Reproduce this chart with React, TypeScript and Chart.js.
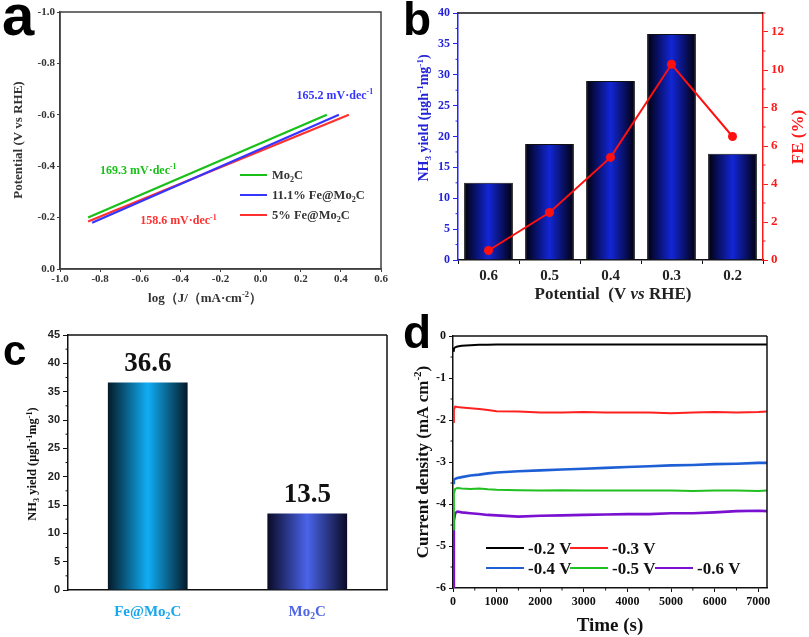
import React, { useEffect, useRef } from "react";
import { Chart, registerables } from "chart.js";

Chart.register(...registerables);

const SERIF = "'Liberation Serif', 'Times New Roman', serif";
const SANS = "'Liberation Sans', Arial, sans-serif";

// panel a: Tafel lines (two end points each)
const aNames = ["Mo_{2}C", "11.1% Fe@Mo_{2}C", "5% Fe@Mo_{2}C"];
const aColors = ["#18c018", "#3535ff", "#ff3030"];
const aLogJ = [
  [-0.86, 0.33],
  [-0.84, 0.39],
  [-0.86, 0.44],
];
const aPotential = [
  [-0.2, -0.6],
  [-0.18, -0.6],
  [-0.185, -0.6],
];
const aSlopes = ["169.3 mV·dec^{-1}", "165.2 mV·dec^{-1}", "158.6 mV·dec^{-1}"];
const aSlopeAnchor = [
  [-0.61, -0.385],
  [0.37, -0.677],
  [-0.41, -0.19],
];

// panel b: yield bars + FE line
const bPotentials = ["0.6", "0.5", "0.4", "0.3", "0.2"];
const bYield = [12.5, 18.8, 29.0, 36.6, 17.2];
const bFE = [0.5, 2.5, 5.4, 10.3, 6.5];
const bFETicks = [0, 2, 4, 6, 8, 10, 12];

// panel c: yield comparison
const cSamples = ["Fe@Mo_{2}C", "Mo_{2}C"];
const cYield = [36.6, 13.5];
const cBarColors = [
  ["#041a28", "#10aef6"],
  ["#0a0a26", "#4a64ea"],
];
const cLabelColors = ["#1aa6ee", "#5066e4"];

// panel d: chronoamperometry
const dTime = [
  0, 20, 50, 100, 200, 400, 600, 800, 1000, 1500, 2000, 2500, 3000, 3500, 4000,
  4500, 5000, 5500, 6000, 6500, 7000, 7200,
];
const dTimeTicks = [0, 1000, 2000, 3000, 4000, 5000, 6000, 7000];
const dLabels = ["-0.2 V", "-0.3 V", "-0.4 V", "-0.5 V", "-0.6 V"];
const dColors = ["#000000", "#ff2020", "#1f5fd6", "#20c020", "#7a10d0"];
const dCurrent = [
  [-0.35, -0.3, -0.27, -0.25, -0.23, -0.22, -0.21, -0.21, -0.2, -0.2, -0.2, -0.2, -0.2, -0.2, -0.2, -0.2, -0.2, -0.2, -0.2, -0.2, -0.2, -0.2],
  [-2.05, -1.75, -1.68, -1.69, -1.7, -1.72, -1.74, -1.76, -1.79, -1.8, -1.82, -1.82, -1.81, -1.82, -1.82, -1.82, -1.84, -1.82, -1.81, -1.82, -1.81, -1.8],
  [-3.5, -3.42, -3.4, -3.38, -3.36, -3.32, -3.3, -3.27, -3.25, -3.22, -3.2, -3.18, -3.16, -3.14, -3.12, -3.1, -3.08, -3.07, -3.05, -3.04, -3.02, -3.02],
  [-4.6, -3.75, -3.64, -3.62, -3.63, -3.64, -3.63, -3.65, -3.66, -3.67, -3.68, -3.67, -3.68, -3.68, -3.68, -3.68, -3.68, -3.69, -3.68, -3.68, -3.69, -3.68],
  [-6.0, -4.4, -4.22, -4.18, -4.2, -4.22, -4.24, -4.26, -4.27, -4.3, -4.28, -4.27, -4.26, -4.25, -4.24, -4.24, -4.22, -4.22, -4.2, -4.17, -4.16, -4.17],
];

// ---- helpers ----
type Part = { t: string; m: "n" | "sub" | "sup" | "i" };

// "_{x}" subscript, "^{x}" superscript, "*{x}" italic
function parseRich(s: string): Part[] {
  const out: Part[] = [];
  let buf = "";
  let i = 0;
  while (i < s.length) {
    const c = s[i];
    if ((c === "_" || c === "^" || c === "*") && s[i + 1] === "{") {
      if (buf) out.push({ t: buf, m: "n" });
      buf = "";
      const end = s.indexOf("}", i);
      out.push({ t: s.slice(i + 2, end), m: c === "_" ? "sub" : c === "^" ? "sup" : "i" });
      i = end + 1;
    } else {
      buf += c;
      i++;
    }
  }
  if (buf) out.push({ t: buf, m: "n" });
  return out;
}

function drawRich(
  ctx: CanvasRenderingContext2D,
  s: string,
  x: number,
  y: number,
  size: number,
  color: string,
  align: "left" | "center" | "right" = "left"
) {
  const parts = parseRich(s);
  const fontFor = (p: Part) => {
    const sz = p.m === "sub" || p.m === "sup" ? size * 0.65 : size;
    return `${p.m === "i" ? "italic " : ""}bold ${sz}px ${SERIF}`;
  };
  let w = 0;
  for (const p of parts) {
    ctx.font = fontFor(p);
    w += ctx.measureText(p.t).width;
  }
  let cx = align === "left" ? x : align === "center" ? x - w / 2 : x - w;
  ctx.save();
  ctx.fillStyle = color;
  ctx.textAlign = "left";
  ctx.textBaseline = "alphabetic";
  for (const p of parts) {
    ctx.font = fontFor(p);
    const dy = p.m === "sub" ? size * 0.22 : p.m === "sup" ? -size * 0.38 : 0;
    ctx.fillText(p.t, cx, y + dy);
    cx += ctx.measureText(p.t).width;
  }
  ctx.restore();
}

function drawRichUp(ctx: CanvasRenderingContext2D, s: string, x: number, y: number, size: number, color: string) {
  ctx.save();
  ctx.translate(x, y);
  ctx.rotate(-Math.PI / 2);
  drawRich(ctx, s, 0, size * 0.35, size, color, "center");
  ctx.restore();
}

function panelLetter(ctx: CanvasRenderingContext2D, letter: string, x: number, y: number, size: number) {
  ctx.save();
  ctx.font = `bold ${size}px ${SANS}`;
  ctx.fillStyle = "#000";
  ctx.textBaseline = "alphabetic";
  ctx.textAlign = "left";
  ctx.fillText(letter, x, y);
  ctx.restore();
}

function line(ctx: CanvasRenderingContext2D, x1: number, y1: number, x2: number, y2: number, color: string, w: number) {
  ctx.save();
  ctx.strokeStyle = color;
  ctx.lineWidth = w;
  ctx.beginPath();
  ctx.moveTo(x1, y1);
  ctx.lineTo(x2, y2);
  ctx.stroke();
  ctx.restore();
}

function minorY(chart: any, id: string, from: number, to: number, step: number, color: string, side: "left" | "right") {
  const s = chart.scales[id];
  const x = side === "left" ? chart.chartArea.left : chart.chartArea.right;
  for (let v = from; v <= to + 1e-9; v += step) {
    const y = s.getPixelForValue(v);
    line(chart.ctx, side === "left" ? x - 2.5 : x, y, side === "left" ? x : x + 2.5, y, color, 1);
  }
}

function minorX(chart: any, from: number, to: number, step: number, color: string) {
  const s = chart.scales.x;
  const y = chart.chartArea.bottom;
  for (let v = from; v <= to + 1e-9; v += step) {
    const x = s.getPixelForValue(v);
    line(chart.ctx, x, y, x, y + 2.5, color, 1);
  }
}

function barGradient(c: any, stops: string[], pct: number) {
  const chart = c.chart;
  const xs = chart.scales.x;
  if (!chart.chartArea || !xs || c.type !== "data") return stops[1];
  const n = chart.data.labels.length;
  const cx = xs.getPixelForValue(c.dataIndex);
  const half = ((xs.width / n) * pct) / 2;
  const g = chart.ctx.createLinearGradient(cx - half, 0, cx + half, 0);
  g.addColorStop(0, stops[0]);
  g.addColorStop(0.5, stops[1]);
  g.addColorStop(1, stops[0]);
  return g;
}

const tickFont = (size: number, family = SERIF) => ({ family, weight: "bold" as const, size });

const App: React.FC = () => {
  const refA = useRef<HTMLCanvasElement>(null);
  const refB = useRef<HTMLCanvasElement>(null);
  const refC = useRef<HTMLCanvasElement>(null);
  const refD = useRef<HTMLCanvasElement>(null);

  useEffect(() => {
    const charts: Chart[] = [];

    // ---------- a ----------
    if (refA.current) {
      charts.push(
        new Chart(refA.current, {
          type: "line",
          data: {
            datasets: aNames.map((n, i) => ({
              label: n,
              data: aLogJ[i].map((x, k) => ({ x, y: aPotential[i][k] })),
              borderColor: aColors[i],
              borderWidth: 2.2,
              pointRadius: 0,
              fill: false,
              tension: 0,
            })),
          },
          options: {
            responsive: false,
            animation: false,
            layout: { padding: { top: 12, right: 19, left: 0, bottom: 0 } },
            plugins: { legend: { display: false }, tooltip: { enabled: false } },
            scales: {
              x: {
                type: "linear",
                min: -1,
                max: 0.6,
                ticks: { stepSize: 0.2, callback: (v: any) => Number(v).toFixed(1), font: tickFont(11), color: "#333", padding: 1 },
                grid: { drawOnChartArea: false, tickLength: 3, color: "#404040" },
                border: { color: "#404040", width: 1.5 },
                afterFit: (s: any) => {
                  s.height = 41;
                },
              },
              y: {
                min: -1,
                max: 0,
                reverse: true,
                ticks: { stepSize: 0.2, callback: (v: any) => Number(v).toFixed(1), font: tickFont(11), color: "#333", padding: 2 },
                grid: { drawOnChartArea: false, tickLength: 3, color: "#404040" },
                border: { color: "#404040", width: 1.5 },
                afterFit: (s: any) => {
                  s.width = 60;
                },
              },
            },
          },
          plugins: [
            {
              id: "extrasA",
              afterDraw(chart: any) {
                const { ctx, chartArea: a, scales } = chart;
                ctx.save();
                ctx.strokeStyle = "#404040";
                ctx.lineWidth = 1.5;
                ctx.strokeRect(a.left, a.top, a.right - a.left, a.bottom - a.top);
                ctx.restore();
                aSlopes.forEach((t, i) => {
                  const px = scales.x.getPixelForValue(aSlopeAnchor[i][0]);
                  const py = scales.y.getPixelForValue(aSlopeAnchor[i][1]);
                  drawRich(ctx, t, px, py + 4, 12, aColors[i], "center");
                });
                aNames.forEach((n, i) => {
                  const y = 175 + i * 20;
                  line(ctx, 240, y, 267, y, aColors[i], 2);
                  drawRich(ctx, n, 272, y + 4, 12.5, "#333");
                });
                drawRich(ctx, "log（J/（mA·cm^{-2}）", 205, 302, 13, "#333", "center");
                drawRichUp(ctx, "Potential (V vs RHE)", 17, 140, 13, "#333");
                panelLetter(ctx, "a", 2, 35, 58);
              },
            },
          ],
        } as any)
      );
    }

    // ---------- b ----------
    if (refB.current) {
      charts.push(
        new Chart(refB.current, {
          type: "bar",
          data: {
            labels: bPotentials,
            datasets: [
              {
                type: "line",
                label: "FE",
                data: bFE,
                yAxisID: "y1",
                borderColor: "#ff1010",
                borderWidth: 2,
                pointRadius: 4.5,
                pointBackgroundColor: "#ff1010",
                pointBorderWidth: 0,
                tension: 0,
                order: 0,
              },
              {
                type: "bar",
                label: "NH3 yield",
                data: bYield,
                yAxisID: "y",
                backgroundColor: (c: any) => barGradient(c, ["#00000c", "#1226d6"], 0.8),
                borderColor: "#111",
                borderWidth: 1,
                barPercentage: 0.8,
                categoryPercentage: 1,
                order: 1,
              },
            ],
          },
          options: {
            responsive: false,
            animation: false,
            layout: { padding: { top: 13, right: 0, left: 0, bottom: 0 } },
            plugins: { legend: { display: false }, tooltip: { enabled: false } },
            scales: {
              x: {
                ticks: { font: tickFont(15), color: "#222", padding: 3 },
                grid: { drawOnChartArea: false, tickLength: 4, color: "#111" },
                border: { color: "#111", width: 1.5 },
                afterFit: (s: any) => {
                  s.height = 50;
                },
              },
              y: {
                position: "left",
                min: 0,
                max: 40,
                ticks: { stepSize: 5, font: tickFont(12), color: "#2323d8", padding: 3 },
                grid: { drawOnChartArea: false, tickLength: 5, color: "#2323ff" },
                border: { color: "#2323ff", width: 1.5 },
                afterFit: (s: any) => {
                  s.width = 58;
                },
              },
              y1: {
                position: "right",
                min: 0,
                max: 13,
                afterBuildTicks: (axis: any) => {
                  axis.ticks = bFETicks.map((value) => ({ value }));
                },
                ticks: { font: tickFont(13), color: "#ff1a1a", padding: 3 },
                grid: { drawOnChartArea: false, tickLength: 5, color: "#ff1a1a" },
                border: { color: "#ff1a1a", width: 1.5 },
                afterFit: (s: any) => {
                  s.width = 46;
                },
              },
            },
          },
          plugins: [
            {
              id: "extrasB",
              afterDraw(chart: any) {
                const { ctx, chartArea: a } = chart;
                line(ctx, a.left, a.top, a.right, a.top, "#111", 1.5);
                minorY(chart, "y", 2.5, 37.5, 5, "#2323ff", "left");
                minorY(chart, "y1", 1, 13, 2, "#ff1a1a", "right");
                drawRich(ctx, "Potential  (V *{vs} RHE)", 213, 299, 17, "#222", "center");
                drawRichUp(ctx, "NH_{3} yield (μgh^{-1}mg^{-1})", 23, 118, 14, "#2323d8");
                drawRichUp(ctx, "FE (%)", 397, 137, 17, "#ff1a1a");
                panelLetter(ctx, "b", 3, 35, 46);
              },
            },
          ],
        } as any)
      );
    }

    // ---------- c ----------
    if (refC.current) {
      charts.push(
        new Chart(refC.current, {
          type: "bar",
          data: {
            labels: cSamples,
            datasets: [
              {
                label: "NH3 yield",
                data: cYield,
                backgroundColor: (c: any) => barGradient(c, cBarColors[c.dataIndex] ?? cBarColors[0], 0.5),
                borderWidth: 0,
                barPercentage: 0.5,
                categoryPercentage: 1,
              },
            ],
          },
          options: {
            responsive: false,
            animation: false,
            layout: { padding: { top: 25, right: 13, left: 0, bottom: 0 } },
            plugins: { legend: { display: false }, tooltip: { enabled: false } },
            scales: {
              x: {
                ticks: { display: false },
                grid: { display: false },
                border: { color: "#111", width: 1.5 },
                afterFit: (s: any) => {
                  s.height = 47;
                },
              },
              y: {
                min: 0,
                max: 45,
                ticks: { stepSize: 5, font: tickFont(11, SANS), color: "#222", padding: 3 },
                grid: { drawOnChartArea: false, tickLength: 5, color: "#111" },
                border: { color: "#111", width: 1.5 },
                afterFit: (s: any) => {
                  s.width = 68;
                },
              },
            },
          },
          plugins: [
            {
              id: "extrasC",
              afterDraw(chart: any) {
                const { ctx, chartArea: a, scales } = chart;
                line(ctx, a.left, a.top, a.right, a.top, "#111", 1.5);
                line(ctx, a.right, a.top, a.right, a.bottom, "#111", 1.5);
                minorY(chart, "y", 2.5, 42.5, 5, "#111", "left");
                cSamples.forEach((n, i) => {
                  const x = scales.x.getPixelForValue(i);
                  const top = scales.y.getPixelForValue(cYield[i]);
                  drawRich(ctx, cYield[i].toFixed(1), x, top - 12, 27, "#111", "center");
                  drawRich(ctx, n, x, 306, 15, cLabelColors[i], "center");
                });
                drawRichUp(ctx, "NH_{3} yield (μgh^{-1}mg^{-1})", 32, 154, 12.5, "#111");
                panelLetter(ctx, "c", 3, 55, 42);
              },
            },
          ],
        } as any)
      );
    }

    // ---------- d ----------
    if (refD.current) {
      charts.push(
        new Chart(refD.current, {
          type: "line",
          data: {
            datasets: dLabels.map((n, i) => ({
              label: n,
              data: dTime.map((t, k) => ({ x: t, y: dCurrent[i][k] })),
              borderColor: dColors[i],
              borderWidth: i === 2 || i === 4 ? 2.6 : 2,
              pointRadius: 0,
              fill: false,
              tension: 0,
            })),
          },
          options: {
            responsive: false,
            animation: false,
            layout: { padding: { top: 26, right: 42, left: 0, bottom: 0 } },
            plugins: { legend: { display: false }, tooltip: { enabled: false } },
            scales: {
              x: {
                type: "linear",
                min: 0,
                max: 7200,
                afterBuildTicks: (axis: any) => {
                  axis.ticks = dTimeTicks.map((value) => ({ value }));
                },
                ticks: { callback: (v: any) => String(v), font: tickFont(12), color: "#111", padding: 3 },
                grid: { drawOnChartArea: false, tickLength: 4, color: "#111" },
                border: { color: "#111", width: 1.5 },
                afterFit: (s: any) => {
                  s.height = 49;
                },
              },
              y: {
                min: -6,
                max: 0,
                ticks: { stepSize: 1, callback: (v: any) => String(v), font: tickFont(12), color: "#111", padding: 3 },
                grid: { drawOnChartArea: false, tickLength: 4, color: "#111" },
                border: { color: "#111", width: 1.5 },
                afterFit: (s: any) => {
                  s.width = 53;
                },
              },
            },
          },
          plugins: [
            {
              id: "extrasD",
              afterDraw(chart: any) {
                const { ctx, chartArea: a } = chart;
                line(ctx, a.left, a.top, a.right, a.top, "#111", 1.5);
                line(ctx, a.right, a.top, a.right, a.bottom, "#111", 1.5);
                minorY(chart, "y", -5.5, -0.5, 1, "#111", "left");
                minorX(chart, 500, 7000, 1000, "#111");
                // two-row legend
                const slots = [
                  [86, 238],
                  [170, 238],
                  [86, 258],
                  [170, 258],
                  [255, 258],
                ];
                dLabels.forEach((n, i) => {
                  const [x, y] = slots[i];
                  line(ctx, x, y, x + 38, y, dColors[i], 2);
                  drawRich(ctx, n, x + 42, y + 6, 17, "#111");
                });
                drawRich(ctx, "Time (s)", 210, 321, 19, "#111", "center");
                drawRichUp(ctx, "Current density (mA cm^{-2})", 22, 152, 17, "#111");
                panelLetter(ctx, "d", 3, 38, 46);
              },
            },
          ],
        } as any)
      );
    }

    return () => {
      charts.forEach((c) => c.destroy());
    };
  }, []);

  const box = (left: number, top: number): React.CSSProperties => ({ position: "absolute", left, top });

  return (
    <div style={{ position: "absolute", left: 0, top: 0, width: 809, height: 637, background: "#fff" }}>
      <canvas ref={refA} width={400} height={310} style={box(0, 0)} />
      <canvas ref={refB} width={409} height={310} style={box(400, 0)} />
      <canvas ref={refC} width={400} height={327} style={box(0, 310)} />
      <canvas ref={refD} width={409} height={327} style={box(400, 310)} />
    </div>
  );
};

export default App;
